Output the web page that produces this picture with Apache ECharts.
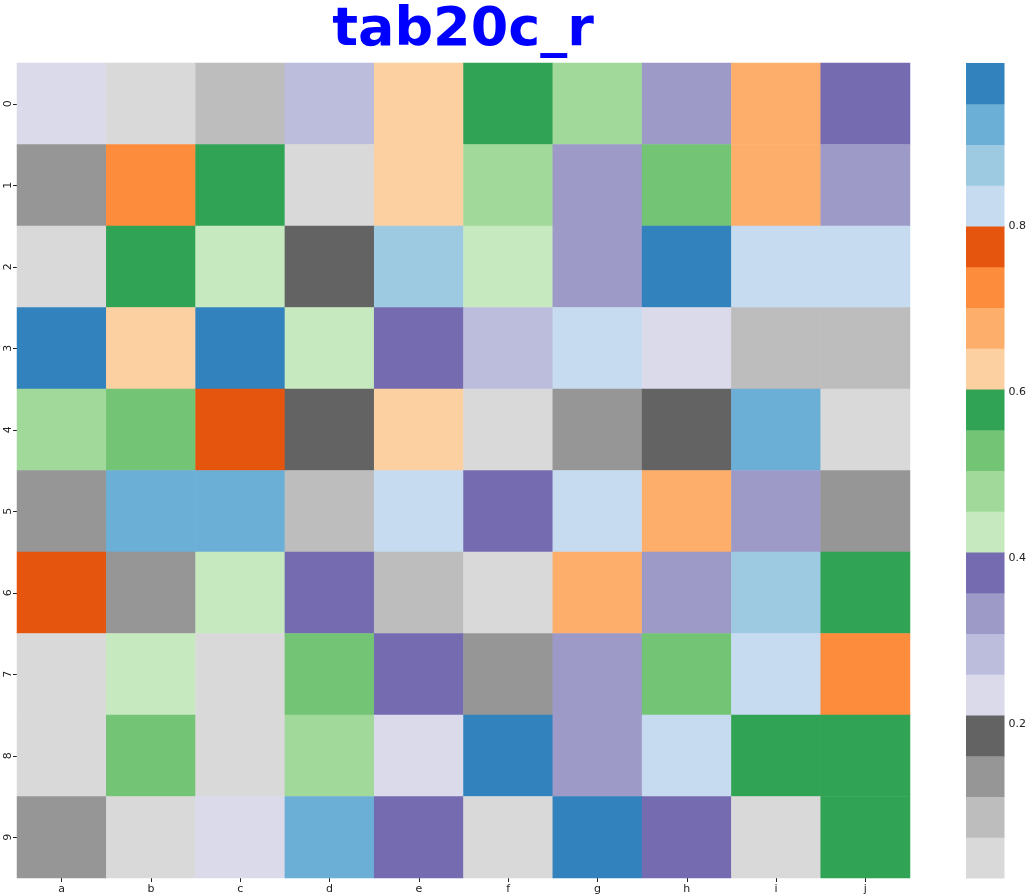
<!DOCTYPE html>
<html>
<head>
<meta charset="utf-8">
<script src="https://cdn.jsdelivr.net/npm/echarts@6/dist/echarts.min.js"></script>
<style>
  html, body { margin: 0; padding: 0; background: #fff; }
  #chart { width: 1029px; height: 895px; }
</style>
</head>
<body>
<div id="chart"></div>
<script>
// columns and rows
const cols = ['a', 'b', 'c', 'd', 'e', 'f', 'g', 'h', 'i', 'j']
const rows = ['0', '1', '2', '3', '4', '5', '6', '7', '8', '9']

// cell values (row by row, a..j)
const row0 = [0.24, 0.05, 0.10, 0.29, 0.62, 0.57, 0.49, 0.34, 0.67, 0.39]
const row1 = [0.13, 0.73, 0.59, 0.03, 0.64, 0.47, 0.32, 0.52, 0.69, 0.35]
const row2 = [0.06, 0.58, 0.44, 0.18, 0.88, 0.42, 0.33, 0.96, 0.83, 0.81]
const row3 = [0.997, 0.63, 0.98, 0.45, 0.39, 0.27, 0.84, 0.23, 0.08, 0.11]
const row4 = [0.48, 0.54, 0.77, 0.20, 0.61, 0.04, 0.15, 0.17, 0.91, 0.02]
const row5 = [0.14, 0.94, 0.92, 0.10, 0.82, 0.37, 0.84, 0.66, 0.31, 0.12]
const row6 = [0.79, 0.15, 0.41, 0.36, 0.07, 0.015, 0.70, 0.34, 0.86, 0.56]
const row7 = [0.03, 0.45, 0.05, 0.51, 0.40, 0.14, 0.32, 0.55, 0.83, 0.72]
const row8 = [0.06, 0.53, 0.02, 0.46, 0.22, 0.96, 0.35, 0.81, 0.57, 0.60]
const row9 = [0.13, 0.04, 0.25, 0.93, 0.38, 0.03, 0.95, 0.40, 0.06, 0.59]
const matrix = [row0, row1, row2, row3, row4, row5, row6, row7, row8, row9]

// colour scale range and ticks
const vmin = 0.015
const vmax = 0.997
const cbarTicks = [0.2, 0.4, 0.6, 0.8]

// tab20c reversed, low -> high
const tab20c_r = [
  '#d9d9d9', '#bdbdbd', '#969696', '#636363',
  '#dadaeb', '#bcbddc', '#9e9ac8', '#756bb1',
  '#c7e9c0', '#a1d99b', '#74c476', '#31a354',
  '#fdd0a2', '#fdae6b', '#fd8d3c', '#e6550d',
  '#c6dbef', '#9ecae1', '#6baed6', '#3182bd'
]

const step = (vmax - vmin) / tab20c_r.length
const pieces = tab20c_r.map((color, i) => {
  const p = {gte: vmin + i * step, color: color}
  if (i === tab20c_r.length - 1) p.lte = vmax + 1e-9
  else p.lt = vmin + (i + 1) * step
  return p
})
const bands = tab20c_r.map((color, i) => [vmin + i * step, vmin + (i + 1) * step, i])

const heatData = []
matrix.forEach((r, y) => {
  r.forEach((v, x) => {
    heatData.push([x, y, v])
  })
})

const labelStyle = {color: '#222', fontFamily: 'DejaVu Sans', fontSize: 11}

const chart = echarts.init(document.getElementById('chart'))
chart.setOption({
  animation: false,
  title: {
    text: 'tab20c_r',
    left: 463,
    top: 4,
    padding: 0,
    textAlign: 'center',
    textStyle: {color: '#0000ff', fontFamily: 'DejaVu Sans', fontWeight: 'bold', fontSize: 54}
  },
  grid: [
    {left: 17, top: 63, width: 893, height: 815},
    {left: 966, top: 63, width: 40, height: 815}
  ],
  xAxis: [
    {
      type: 'category', gridIndex: 0, data: cols, position: 'bottom',
      axisLine: {show: false},
      axisTick: {show: true, alignWithLabel: true, length: 4, lineStyle: {color: '#222'}},
      axisLabel: Object.assign({margin: 6}, labelStyle),
      splitLine: {show: false}
    },
    {
      type: 'value', gridIndex: 1, min: 0, max: 1, show: false
    }
  ],
  yAxis: [
    {
      type: 'category', gridIndex: 0, data: rows, inverse: true,
      axisLine: {show: false},
      axisTick: {show: true, alignWithLabel: true, length: 4, lineStyle: {color: '#222'}},
      axisLabel: Object.assign({rotate: 90, margin: 3}, labelStyle),
      splitLine: {show: false}
    },
    {
      type: 'value', gridIndex: 1, min: vmin, max: vmax, position: 'right',
      axisLine: {show: false},
      axisTick: {show: true, length: 4, customValues: cbarTicks, lineStyle: {color: '#222'}},
      axisLabel: Object.assign({margin: 4, customValues: cbarTicks, formatter: v => v.toFixed(1)}, labelStyle),
      splitLine: {show: false}
    }
  ],
  visualMap: {
    type: 'piecewise',
    show: false,
    seriesIndex: 0,
    dimension: 2,
    pieces: pieces
  },
  series: [
    {
      type: 'heatmap',
      xAxisIndex: 0,
      yAxisIndex: 0,
      data: heatData,
      itemStyle: {borderWidth: 0},
      emphasis: {disabled: true}
    },
    {
      type: 'custom',
      xAxisIndex: 1,
      yAxisIndex: 1,
      data: bands,
      silent: true,
      renderItem: (params, api) => {
        const p0 = api.coord([0, api.value(0)])
        const p1 = api.coord([1, api.value(1)])
        return {
          type: 'rect',
          shape: {x: p0[0], y: p1[1], width: p1[0] - p0[0], height: p0[1] - p1[1] + 0.5},
          style: {fill: tab20c_r[api.value(2)]}
        }
      }
    }
  ]
})
</script>
</body>
</html>
